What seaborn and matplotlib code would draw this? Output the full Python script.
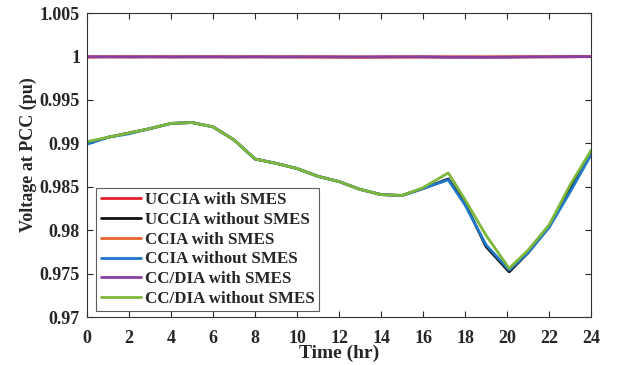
import numpy as np
import pandas as pd
import seaborn as sns
import matplotlib.pyplot as plt

# time axis (hr)
time = [0, 1, 2, 3, 4, 5, 6, 7, 8, 9, 10, 11, 12, 13, 14, 15, 16, 17.2, 18, 19, 20.1, 21, 22, 23, 24]

# voltage at PCC (pu)
uccia_smes = [0.99995, 0.99997, 0.99996, 0.99997, 0.99997, 0.99996, 0.99997, 0.99996, 0.99997, 0.99996, 0.99996,
              0.99995, 0.99994, 0.99992, 0.99994, 0.99995, 0.99996, 0.99995, 0.99996, 0.99995, 0.99996, 0.99997,
              0.99998, 0.99998, 1.00000]
uccia_no = [0.9900, 0.9907, 0.9912, 0.9917, 0.9923, 0.9924, 0.9919, 0.9904, 0.9882, 0.9877, 0.9871, 0.9862,
            0.9856, 0.9847, 0.9841, 0.9840, 0.9848, 0.9859, 0.9831, 0.9781, 0.9752, 0.9774, 0.9805, 0.9848, 0.9889]
ccia_smes = [0.99996, 0.99997, 0.99996, 0.99997, 0.99996, 0.99997, 0.99996, 0.99997, 0.99996, 0.99997, 0.99996,
             0.99996, 0.99995, 0.99994, 0.99995, 0.99996, 0.99996, 0.99995, 0.99995, 0.99995, 0.99996, 0.99997,
             0.99997, 0.99998, 0.99999]
ccia_no = [0.9899, 0.9907, 0.9911, 0.9917, 0.9923, 0.9924, 0.9919, 0.9904, 0.9882, 0.9877, 0.9871, 0.9862,
           0.9856, 0.9847, 0.9841, 0.9840, 0.9848, 0.9858, 0.9829, 0.9783, 0.9754, 0.9774, 0.9803, 0.9844, 0.9887]
ccdia_smes = [0.99998, 0.99997, 0.99997, 0.99997, 0.99996, 0.99997, 0.99997, 0.99996, 0.99997, 0.99996, 0.99997,
              0.99997, 0.99996, 0.99996, 0.99997, 0.99997, 0.99997, 0.99992, 0.99992, 0.99991, 0.99993, 0.99996,
              0.99997, 0.99998, 0.99999]
ccdia_no = [0.9902, 0.9907, 0.9912, 0.9917, 0.9923, 0.9924, 0.9919, 0.9904, 0.9882, 0.9877, 0.9871, 0.9862,
            0.9856, 0.9847, 0.9841, 0.9840, 0.9849, 0.9866, 0.9835, 0.9794, 0.9756, 0.9777, 0.9806, 0.9852, 0.9892]

labels = ["UCCIA with SMES", "UCCIA without SMES", "CCIA with SMES",
          "CCIA without SMES", "CC/DIA with SMES", "CC/DIA without SMES"]
series = [uccia_smes, uccia_no, ccia_smes, ccia_no, ccdia_smes, ccdia_no]
colors = ["#E0202A", "#111111", "#E8642A", "#1F78C8", "#8A3FA0", "#7DB83A"]

df = pd.concat([pd.DataFrame({"Time": time, "Voltage": s, "Case": lab})
                for s, lab in zip(series, labels)], ignore_index=True)

sns.set_style("ticks")
plt.rcParams['font.family'] = ['Liberation Serif', 'DejaVu Serif']
plt.rcParams['font.weight'] = 'bold'

fig = plt.figure(figsize=(6.17, 3.65), dpi=100)
ax = fig.add_axes([0.141, 0.1315, 0.817, 0.8325])

sns.lineplot(data=df, x="Time", y="Voltage", hue="Case", hue_order=labels,
             palette=dict(zip(labels, colors)), linewidth=2, ax=ax)

ax.set_xlim(0, 24)
ax.set_ylim(0.97, 1.005)
ax.set_xticks(np.arange(0, 25, 2))
ax.set_yticks([0.97, 0.975, 0.98, 0.985, 0.99, 0.995, 1.0, 1.005])
ax.set_yticklabels(["0.97", "0.975", "0.98", "0.985", "0.99", "0.995", "1", "1.005"])
ax.tick_params(direction="in", top=True, right=True, labelsize=13, length=4)
ax.tick_params(axis="x", pad=9)
ax.tick_params(axis="y", pad=5)
for lbl in ax.get_xticklabels() + ax.get_yticklabels():
    lbl.set_fontweight("bold")
for sp in ax.spines.values():
    sp.set_visible(True)
    sp.set_linewidth(0.8)
    sp.set_color("#333333")

ax.set_xlabel("Time (hr)", fontsize=14, fontweight="bold", labelpad=-1)
ax.set_ylabel("Voltage at PCC (pu)", fontsize=13, fontweight="bold")
ax.yaxis.set_label_coords(-0.100, 0.535)

leg = ax.legend(loc="lower left", bbox_to_anchor=(0.012, 0.008),
                prop={"weight": "bold", "size": 12.2}, frameon=True, fancybox=False,
                handlelength=2.4, handletextpad=0.2, borderpad=0.25, labelspacing=0.22,
                borderaxespad=0.2)
leg.get_frame().set_edgecolor("#333333")
leg.get_frame().set_linewidth(0.8)

plt.savefig("out.png", dpi=100)
